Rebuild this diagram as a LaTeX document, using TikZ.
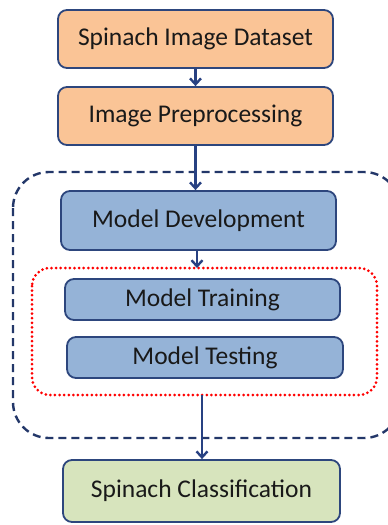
\documentclass[tikz,border=0pt]{standalone}
\usepackage{fontspec}
\setmainfont{Carlito}
\usetikzlibrary{arrows.meta}
\definecolor{orangefill}{RGB}{250,196,150}
\definecolor{bluefill}{RGB}{149,179,215}
\definecolor{greenfill}{RGB}{215,228,189}
\definecolor{boxline}{RGB}{45,70,125}
\definecolor{arrowcol}{RGB}{40,65,130}
\definecolor{navy}{RGB}{35,55,105}
\tikzset{
  box/.style={draw=boxline, line width=1.8pt, rounded corners=9pt, text=black!90,
    font=\fontsize{25.5}{30}\selectfont, inner sep=0pt},
  flow/.style={draw=arrowcol, line width=2.4pt, -{Straight Barb[length=6pt,width=11pt,line width=2.4pt]}},
}
\begin{document}
\begin{tikzpicture}[x=1pt,y=-1pt]
\useasboundingbox (0,0) rectangle (388,525);
\begin{scope}
\clip (0,0) rectangle (388,525);
\draw[navy, line width=2.4pt, dash pattern=on 8pt off 5pt, rounded corners=36pt] (13,172) rectangle (400,438);
\end{scope}
\draw[red, line width=3pt, dash pattern=on 0pt off 4.6pt, line cap=round, rounded corners=18pt] (32,268) rectangle (377,395);
\coordinate (redtop) at (197,268);
\coordinate (redbot) at (202,395);
\node[box, fill=orangefill, minimum width=275pt, minimum height=58pt] (ds) at (195.5,39) {Spinach Image Dataset};
\node[box, fill=orangefill, minimum width=275pt, minimum height=58pt] (pre) at (195.5,116) {Image Preprocessing};
\node[box, fill=bluefill, minimum width=275pt, minimum height=59pt] (dev) at (198.5,220.5) {Model Development};
\node[box, fill=bluefill, minimum width=275pt, minimum height=41pt] (train) at (202.5,299.5) {Model Training};
\node[box, fill=bluefill, minimum width=276pt, minimum height=41pt] (test) at (205,357.5) {Model Testing};
\node[box, fill=greenfill, minimum width=277pt, minimum height=62pt] (cls) at (201.5,491) {Spinach Classification};
\draw[flow] (ds.south) -- (ds.south |- pre.north);
\draw[flow] (pre.south) -- (pre.south |- dev.north);
\draw[flow] (redtop |- dev.south) -- (redtop);
\draw[flow] (redbot) -- (redbot |- cls.north);
\end{tikzpicture}
\end{document}
